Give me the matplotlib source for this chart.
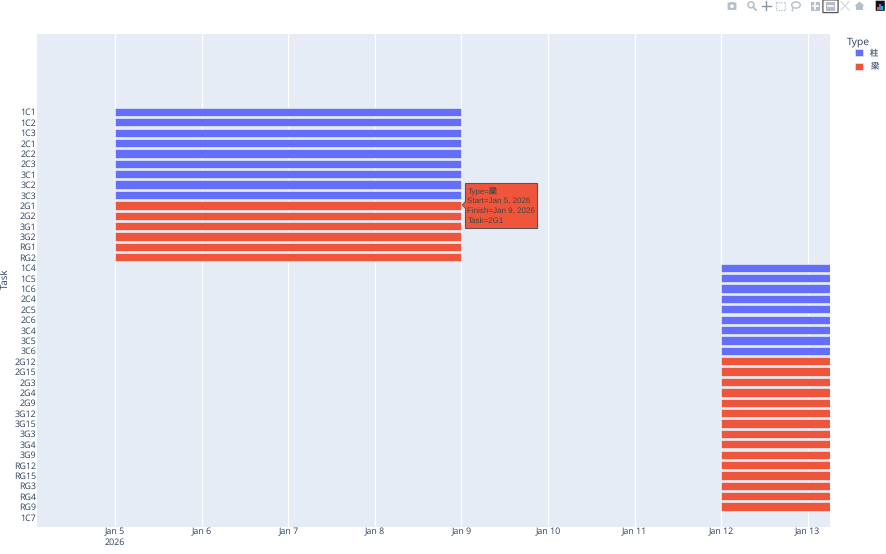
#!/usr/bin/env python3
# -*- coding: utf-8 -*-
import matplotlib
matplotlib.use("Agg")
import matplotlib.pyplot as plt
import matplotlib.dates as mdates
import matplotlib.patches as mpatches
import pandas as pd

plt.rcParams['font.family'] = ['Open Sans', 'Noto Sans CJK SC', 'DejaVu Sans']
plt.rcParams['text.hinting'] = 'no_hinting'

# Datos
tasks = ['1C1', '1C2', '1C3', '2C1', '2C2', '2C3', '3C1', '3C2', '3C3',
         '2G1', '2G2', '3G1', '3G2', 'RG1', 'RG2',
         '1C4', '1C5', '1C6', '2C4', '2C5', '2C6', '3C4', '3C5', '3C6',
         '2G12', '2G15', '2G3', '2G4', '2G9', '3G12', '3G15', '3G3', '3G4', '3G9',
         'RG12', 'RG15', 'RG3', 'RG4', 'RG9', '1C7']
types = ['柱'] * 9 + ['梁'] * 6 + ['柱'] * 9 + ['梁'] * 15 + ['柱']
starts = ['2026-01-05'] * 15 + ['2026-01-12'] * 24 + ['2026-01-14']
finishes = ['2026-01-09'] * 15 + ['2026-01-14'] * 24 + ['2026-01-15']

type_names = ['柱', '梁']
type_colors = {'柱': '#636EFA', '梁': '#EF553B'}
BG = '#E5ECF6'
INK = '#2A3F5F'

W, H = 886, 554
fig = plt.figure(figsize=(W / 100, H / 100), dpi=100, facecolor='white')
ax = fig.add_axes([37 / W, 1 - 527 / H, (830 - 37) / W, (527 - 34) / H], facecolor=BG)

start_num = mdates.date2num(pd.to_datetime(starts))
finish_num = mdates.date2num(pd.to_datetime(finishes))
y_pos = list(range(len(tasks)))
colors = [type_colors[t] for t in types]

ax.barh(y_pos, finish_num - start_num, left=start_num, height=0.8, color=colors,
        edgecolor=BG, linewidth=0.5, zorder=3)

ax.set_xlim(mdates.date2num(pd.Timestamp('2026-01-04 02:20')),
            mdates.date2num(pd.Timestamp('2026-01-13 06:10')))
ax.set_ylim(39.96, -7.5)

ax.set_yticks(y_pos)
ax.set_yticklabels(tasks)
ticks = pd.date_range('2026-01-05', '2026-01-13')
ax.set_xticks(mdates.date2num(ticks))
ax.set_xticklabels([d.strftime('%b ') + str(d.day) + ('\n2026' if i == 0 else '')
                    for i, d in enumerate(ticks)], linespacing=1.35)
ax.tick_params(axis='x', length=0, labelsize=6.4, colors=INK, pad=0)
ax.tick_params(axis='y', length=0, labelsize=6.4, colors=INK, pad=0.5)
ax.grid(axis='x', color='white', linewidth=0.9, zorder=1)
ax.set_axisbelow(True)
for s in ax.spines.values():
    s.set_visible(False)

fig.text(5 / W, 1 - 279 / H, 'Task', rotation=90, va='center', ha='center',
         fontsize=7, color=INK)

# Leyenda
fig.text(847 / W, 1 - 42 / H, 'Type', va='center', ha='left', fontsize=7.5, color=INK)
handles = [mpatches.Patch(facecolor=type_colors[t], edgecolor=BG, linewidth=0.5, label=t)
           for t in type_names]
leg = fig.legend(handles=handles, loc='upper left',
                 bbox_to_anchor=(855 / W, 1 - 49 / H), frameon=False, fontsize=6,
                 handlelength=0.95, handleheight=1.0,
                 handletextpad=0.8, labelspacing=0.62, borderpad=0, borderaxespad=0)
for txt in leg.get_texts():
    txt.set_color('#5A6C88')

# Capa en pixeles para tooltip y barra de herramientas
ov = fig.add_axes([0, 0, 1, 1], facecolor='none')
ov.set_xlim(0, W)
ov.set_ylim(H, 0)
ov.axis('off')
ov.set_zorder(20)

# Tooltip sobre 2G1
ov.add_patch(mpatches.Rectangle((465, 183), 72, 45, facecolor=type_colors['梁'],
                                edgecolor='#555555', linewidth=0.8))
ov.add_patch(mpatches.Polygon([(462, 205), (465.5, 201.5), (465.5, 208.5)],
                              facecolor=type_colors['梁'], edgecolor='#555555', linewidth=0.6))
ov.add_patch(mpatches.Rectangle((465.1, 201.8), 1.2, 6.4, facecolor=type_colors['梁'], edgecolor='none'))
ov.text(467.5, 205.5, 'Type=梁\nStart=Jan 5, 2026\nFinish=Jan 9, 2026\nTask=2G1',
        ha='left', va='center', fontsize=5.8, linespacing=1.43, color='#444444',
        family=['Liberation Sans', 'Noto Sans CJK SC'])

tool = '#B5BEC9'
# camara
ov.add_patch(mpatches.FancyBboxPatch((728, 3), 8, 6.5, boxstyle='round,pad=0.4', fc=tool, ec='none'))
ov.add_patch(mpatches.Rectangle((730, 1.5), 4, 2, fc=tool, ec='none'))
ov.add_patch(mpatches.Circle((732, 6.2), 1.9, fc='white', ec='none'))
# lupa
ov.add_patch(mpatches.Circle((751, 4.8), 3, fc='none', ec=tool, lw=1.1))
ov.plot([753, 756], [7, 10], color=tool, lw=1.3)
# mover
ov.plot([762, 771], [5.8, 5.8], color='#8A96A5', lw=1)
ov.plot([766.5, 766.5], [1.2, 10.4], color='#8A96A5', lw=1)
# seleccion caja
ov.add_patch(mpatches.Rectangle((776.5, 1.5), 8.5, 8.5, fc='none', ec=tool, lw=0.9, ls=(0, (1, 1))))
# lazo
ov.add_patch(mpatches.Ellipse((796, 5), 8.5, 6.2, fc='none', ec=tool, lw=1))
ov.plot([793, 792, 793], [8, 10.5, 11], color=tool, lw=0.8)
# zoom + y -
ov.add_patch(mpatches.Rectangle((811, 1.5), 9, 9, fc=tool, ec='none'))
ov.plot([812.8, 818.2], [6, 6], color='white', lw=1.2)
ov.plot([815.5, 815.5], [3.3, 8.7], color='white', lw=1.2)
ov.add_patch(mpatches.FancyBboxPatch((823.5, 0.5), 14, 11.5, boxstyle='round,pad=0.6', fc='white',
                                     ec='#555555', lw=0.9))
ov.add_patch(mpatches.Rectangle((826, 1.5), 9, 9, fc=tool, ec='none'))
ov.plot([827.8, 833.2], [6, 6], color='white', lw=1.2)
# autoscale
ov.plot([841, 849], [1.5, 10], color='#D5DBE3', lw=0.9)
ov.plot([849, 841], [1.5, 10], color='#D5DBE3', lw=0.9)
# casa
ov.add_patch(mpatches.Polygon([(854.5, 6), (859.5, 1.5), (864.5, 6), (863, 6), (863, 10), (856, 10), (856, 6)],
                              fc=tool, ec='none'))
# logo
ov.add_patch(mpatches.FancyBboxPatch((876, 1), 8.5, 9.5, boxstyle='round,pad=0.3', fc='#111111', ec='none'))
for x0, y0, hh, c in [(877.5, 6.5, 3, '#EF553B'), (879.5, 3.5, 6, '#636EFA'), (881.5, 5.5, 4, '#00CC96')]:
    ov.add_patch(mpatches.Rectangle((x0, y0), 1.2, hh, fc=c, ec='none'))

fig.savefig('out.png', dpi=100)
